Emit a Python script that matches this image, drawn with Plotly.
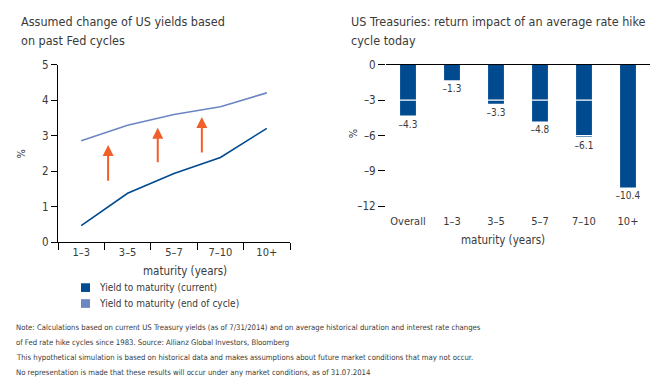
import plotly.graph_objects as go

W, H = 661, 392
FONT = "DejaVu Sans Condensed, Liberation Sans Narrow, sans-serif"
TXT = "#3a3a3a"
DARK = "#004a8f"
LIGHT = "#6c86c4"
ORANGE = "#f0602a"

# ---- data ----
maturities = ["1–3", "3–5", "5–7", "7–10", "10+"]
ytm_current = [0.47, 1.38, 1.94, 2.39, 3.21]
ytm_end = [2.86, 3.30, 3.60, 3.82, 4.21]

bar_categories = ["Overall", "1–3", "3–5", "5–7", "7–10", "10+"]
return_impact = [-4.3, -1.3, -3.3, -4.8, -6.1, -10.4]

left_ticks = [0, 1, 2, 3, 4, 5]
right_ticks = [0, -3, -6, -9, -12]
right_ticklabels = ["0", "–3", "–6", "–9", "–12"]

legend_names = ["Yield to maturity (current)", "Yield to maturity (end of cycle)"]

# arrows (x position on category axis, start, end)
arrows = [(0.58, 1.69, 2.74), (1.65, 2.21, 3.23), (2.60, 2.49, 3.53)]

def px_x(p):
    return p / W

def px_y(p):
    return 1 - p / H

fig = go.Figure()

fig.add_trace(go.Scatter(x=maturities, y=ytm_current, mode="lines",
                         line=dict(color=DARK, width=1.6), showlegend=False,
                         xaxis="x", yaxis="y"))
fig.add_trace(go.Scatter(x=maturities, y=ytm_end, mode="lines",
                         line=dict(color=LIGHT, width=1.6), showlegend=False,
                         xaxis="x", yaxis="y"))

bar_text = [("–" if v < 0 else "") + f"{abs(v):.1f}" for v in return_impact]
fig.add_trace(go.Bar(x=bar_categories, y=return_impact, marker=dict(color=DARK, line=dict(width=0)),
                     width=0.36, text=bar_text, textposition="outside", constraintext="none",
                     textfont=dict(size=10, color=TXT, family=FONT), cliponaxis=False,
                     showlegend=False, xaxis="x2", yaxis="y2"))

shapes = []
for i, v in enumerate(return_impact[:-1]):
    for g in right_ticks[1:]:
        if v < g:
            shapes.append(dict(type="line", xref="x2", yref="y2", x0=i - 0.18, x1=i + 0.18,
                               y0=g, y1=g, line=dict(color="white", width=1.2), layer="above"))

annotations = []
for ax_, y0, y1 in arrows:
    annotations.append(dict(x=ax_, y=y1, ax=ax_, ay=y0, xref="x", yref="y", axref="x", ayref="y",
                            showarrow=True, arrowhead=2, arrowsize=1.1, arrowwidth=2,
                            arrowcolor=ORANGE, text=""))

def ann(text, x, y, size, xanchor="left", yanchor="middle", angle=0):
    annotations.append(dict(text=text, x=px_x(x), y=px_y(y), xref="paper", yref="paper",
                            showarrow=False, xanchor=xanchor, yanchor=yanchor, textangle=angle,
                            font=dict(size=size, color=TXT, family=FONT), align="left"))

ann("Assumed change of US yields based", 19, 15.5, 12.5)
ann("on past Fed cycles", 19, 35, 12.5)
ann("US Treasuries: return impact of an average rate hike", 349, 15.5, 12.5)
ann("cycle today", 349, 35, 12.5)
ann("%", 22, 153, 11, xanchor="center", angle=-90)
ann("%", 353, 132, 11, xanchor="center", angle=-90)
ann("maturity (years)", 185, 274, 11.5, xanchor="center")
ann("maturity (years)", 503, 242, 11.5, xanchor="center")

# legend (squares + labels)
for k, (name, col) in enumerate(zip(legend_names, [DARK, LIGHT])):
    yc = 291 + 16.5 * k
    shapes.append(dict(type="rect", xref="paper", yref="paper", x0=px_x(81), x1=px_x(90),
                       y0=px_y(yc + 4.5), y1=px_y(yc - 4.5), fillcolor=col, line=dict(width=0)))
    ann(name, 97, yc, 10)

notes = [
    "Note: Calculations based on current US Treasury yields (as of 7/31/2014) and on average historical duration and interest rate changes",
    "of Fed rate hike cycles since 1983. Source: Allianz Global Investors, Bloomberg",
    "This hypothetical simulation is based on historical data and makes assumptions about future market conditions that may not occur.",
    "No representation is made that these results will occur under any market conditions, as of 31.07.2014",
]
for k, line in enumerate(notes):
    ann(line, 14, 332.5 + 15.5 * k, 7.7)

fig.update_layout(
    width=W, height=H, margin=dict(l=0, r=0, t=0, b=0),
    paper_bgcolor="white", plot_bgcolor="white", showlegend=False,
    font=dict(family=FONT, color=TXT, size=11),
    xaxis=dict(domain=[px_x(58), px_x(290)], anchor="y", type="category", range=[-0.5, 4.5],
               showline=True, linecolor="black", linewidth=1, ticks="outside", ticklen=7,
               tickcolor="black", tickson="boundaries", showgrid=False, zeroline=False,
               tickfont=dict(size=11, color=TXT)),
    yaxis=dict(domain=[px_y(244), px_y(60)], anchor="x", range=[0, 5], tickvals=left_ticks,
               showline=True, linecolor="black", linewidth=1, ticks="outside", ticklen=6,
               tickcolor="black", showgrid=False, zeroline=False,
               tickfont=dict(size=11.5, color=TXT)),
    xaxis2=dict(domain=[px_x(386), px_x(650)], anchor="y2", type="category", range=[-0.5, 5.5],
                showline=False, ticks="", showgrid=False, zeroline=False,
                tickfont=dict(size=11, color=TXT)),
    yaxis2=dict(domain=[px_y(214), px_y(60)], anchor="x2", range=[-12.6, 0],
                tickvals=right_ticks, ticktext=right_ticklabels,
                showline=False, ticks="outside", ticklen=7, tickcolor="black",
                showgrid=False, zeroline=True, zerolinecolor="black", zerolinewidth=1,
                tickfont=dict(size=11.5, color=TXT)),
    shapes=shapes, annotations=annotations,
)

fig.write_html("out.html", config={"displayModeBar": False},
               post_script="document.body.style.margin='0';")
